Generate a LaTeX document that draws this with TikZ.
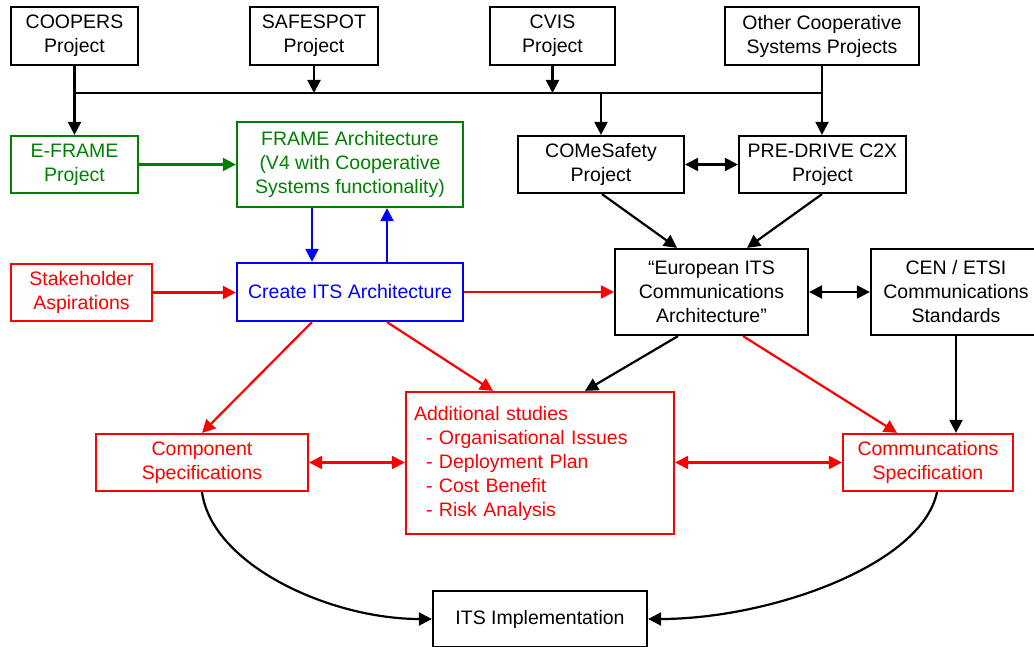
\documentclass[tikz,border=0pt]{standalone}
\usepackage{fontspec}
\setmainfont{Liberation Sans}
\usetikzlibrary{arrows.meta,calc}
\definecolor{dgreen}{RGB}{0,128,0}
\begin{document}
\begin{tikzpicture}[x=1pt,y=-1pt,
  every node/.style={font=\fontsize{19.5}{24}\selectfont},
  box/.style={draw, line width=2.2pt, rectangle, align=center, inner sep=0pt},
  arr/.style={line width=2.2pt, -{Triangle[length=13pt,width=13pt]}},
  darr/.style={line width=2.2pt, {Triangle[length=13pt,width=13pt]}-{Triangle[length=13pt,width=13pt]}}]
\path[use as bounding box] (0,0) rectangle (1034,647);
\clip (0,0) rectangle (1034,647);
% top row
\node[box, minimum width=127pt, minimum height=58pt] (coop) at (74.5,36) {COOPERS\\Project};
\node[box, minimum width=128pt, minimum height=58pt] (safe) at (314,36) {SAFESPOT\\Project};
\node[box, minimum width=125pt, minimum height=58pt] (cvis) at (552.5,36) {CVIS\\Project};
\node[box, minimum width=194pt, minimum height=58pt] (other) at (822,36) {Other Cooperative\\Systems Projects};
% second row
\node[box, color=dgreen, minimum width=127pt, minimum height=57pt] (eframe) at (74.5,164.5) {E-FRAME\\Project};
\node[box, color=dgreen, minimum width=226pt, minimum height=85pt] (frame) at (350,164.5) {FRAME Architecture\\(V4 with Cooperative\\Systems functionality)};
\node[box, minimum width=166pt, minimum height=57pt] (comes) at (601,164.5) {COMeSafety\\Project};
\node[box, minimum width=167pt, minimum height=57pt] (pred) at (822.5,164.5) {PRE-DRIVE C2X\\Project};
% third row
\node[box, color=red, minimum width=141pt, minimum height=57pt] (stake) at (81.5,292.5) {Stakeholder\\Aspirations};
\node[box, color=blue, minimum width=226pt, minimum height=58pt] (create) at (350,292) {Create ITS Architecture};
\node[box, minimum width=193pt, minimum height=86pt] (euro) at (711.5,292) {“European ITS\\Communications\\Architecture”};
\node[box, minimum width=170pt, minimum height=86pt] (cen) at (956,292) {CEN / ETSI\\Communications\\Standards};
% fourth row
\node[box, color=red, minimum width=212pt, minimum height=57pt] (comp) at (202,462.5) {Component\\Specifications};
\node[box, color=red, minimum height=142pt, inner xsep=8pt, text width=252pt, align=left] (addl) at (540,463) {Additional studies\\\hspace*{12pt}- Organisational Issues\\\hspace*{12pt}- Deployment Plan\\\hspace*{12pt}- Cost Benefit\\\hspace*{12pt}- Risk Analysis};
\node[box, color=red, minimum width=170pt, minimum height=57pt] (cspec) at (928,462.5) {Communcations\\Specification};
% bottom
\node[box, minimum width=214pt, minimum height=56pt] (impl) at (540,619) {ITS Implementation};
% bus
\coordinate (busL) at (74.5,93);
\coordinate (busR) at (822,93);
\draw[line width=2.2pt] (busL) -- (busR);
\draw[arr] (coop.south) -- (eframe.north);
\draw[arr] (safe.south) -- (safe.south |- busL);
\draw[arr] (cvis.south) -- (cvis.south |- busL);
\draw[arr] (other.south) -- (other.south |- pred.north);
\draw[arr] (comes.north |- busL) -- (comes.north);
% second row links
\draw[arr, dgreen] (eframe.east) -- (frame.west |- eframe.east);
\draw[darr] (comes.east) -- (pred.west);
\draw[arr, blue] ([xshift=-38pt]frame.south) -- ([xshift=-38pt]create.north);
\draw[arr, blue] ([xshift=37pt]create.north) -- ([xshift=37pt]frame.south);
\draw[arr] ([xshift=1pt]comes.south) -- ([xshift=-34.5pt]euro.north);
\draw[arr] ([xshift=-0.5pt]pred.south) -- ([xshift=35.5pt]euro.north);
% third row links
\draw[arr, red] (stake.east) -- (create.west |- stake.east);
\draw[arr, red] (create.east) -- (euro.west);
\draw[darr] (euro.east) -- (cen.west);
\draw[arr] ([xshift=-33.5pt]euro.south) -- ([xshift=45pt]addl.north);
\draw[arr, red] ([xshift=31.5pt]euro.south) -- ([xshift=-31pt]cspec.north);
\draw[arr] (cen.south) -- (cen.south |- cspec.north);
\draw[arr, red] ([xshift=-38pt]create.south) -- (comp.north);
\draw[arr, red] ([xshift=37pt]create.south) -- ([xshift=-47pt]addl.north);
% fourth row links
\draw[darr, red] (comp.east) -- (addl.west |- comp.east);
\draw[darr, red] (addl.east |- cspec.west) -- (cspec.west);
% curves
\draw[arr] (comp.south) .. controls (212,565) and (330,619) .. (impl.west);
\draw[arr] ([xshift=9pt]cspec.south) .. controls (922,565) and (770,619) .. (impl.east);
\end{tikzpicture}
\end{document}
